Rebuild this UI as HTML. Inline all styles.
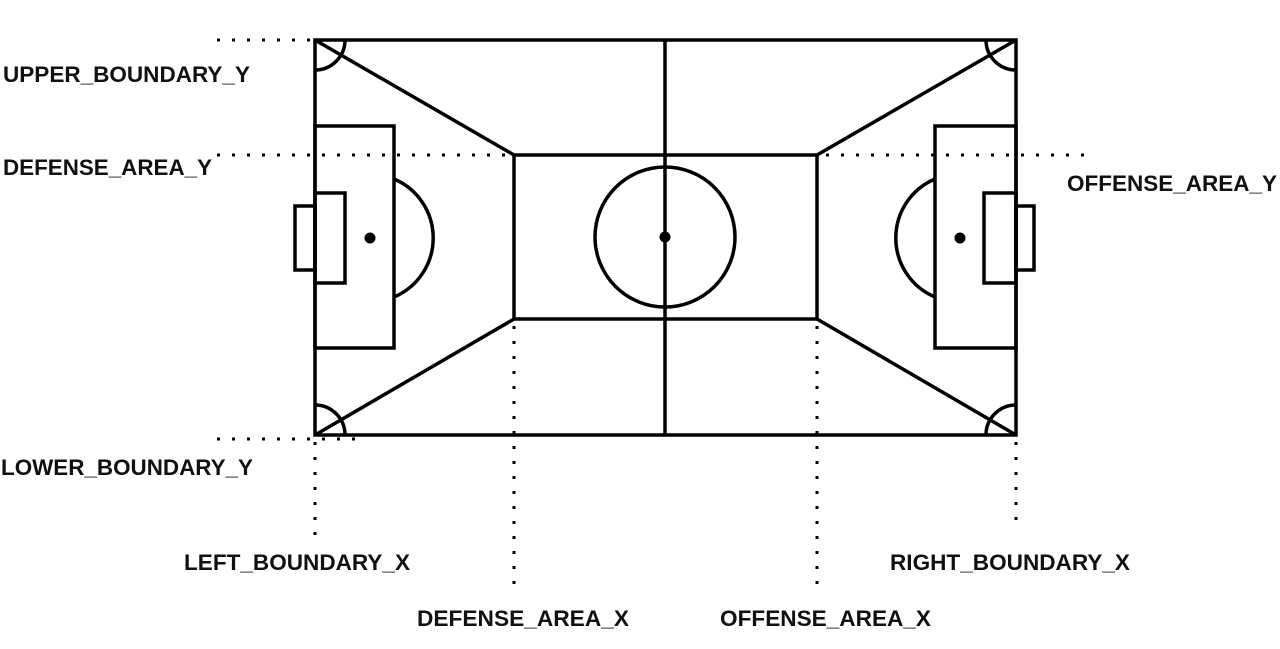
<!DOCTYPE html>
<html><head><meta charset="utf-8"><style>
html,body{margin:0;padding:0;background:#fff;}
svg{display:block;}
text{font-family:"Liberation Sans",Arial,sans-serif;font-weight:bold;font-size:22px;fill:#111;}
</style></head><body>
<svg width="1280" height="649" viewBox="0 0 1280 649">
<g fill="none" stroke="#000" stroke-width="3.5">
  <rect x="315" y="40" width="701" height="395"/>
  <line x1="665" y1="40" x2="665" y2="435"/>
  <rect x="514" y="155" width="303" height="164"/>
  <circle cx="665" cy="237" r="70"/>
  <line x1="315" y1="40" x2="514" y2="155"/>
  <line x1="315" y1="435" x2="514" y2="319"/>
  <line x1="1016" y1="40" x2="817" y2="155"/>
  <line x1="1016" y1="435" x2="817" y2="319"/>
  <rect x="315" y="126" width="79" height="222"/>
  <rect x="315" y="193" width="30" height="90"/>
  <rect x="295" y="206" width="20" height="64"/>
  <path d="M394 179 A64 64 0 0 1 394 297"/>
  <rect x="935" y="126" width="81" height="222"/>
  <rect x="984" y="193" width="32" height="90"/>
  <rect x="1016" y="206" width="18" height="64"/>
  <path d="M935 179 A64 64 0 0 0 935 297"/>
  <path d="M345 40 A30 30 0 0 1 315 70"/>
  <path d="M315 405 A30 30 0 0 1 345 435"/>
  <path d="M986 40 A30 30 0 0 0 1016 70"/>
  <path d="M1016 405 A30 30 0 0 0 986 435"/>
</g>
<circle cx="665" cy="237" r="5.5" fill="#000"/>
<circle cx="370" cy="238" r="5.5" fill="#000"/>
<circle cx="960" cy="238" r="5.5" fill="#000"/>
<g stroke="#000" stroke-width="3" stroke-dasharray="3 12" fill="none">
  <line x1="217" y1="40" x2="355" y2="40"/>
  <line x1="217" y1="155" x2="514" y2="155"/>
  <line x1="826" y1="155" x2="1092" y2="155"/>
  <line x1="217" y1="439" x2="357" y2="439"/>
  <line x1="315" y1="442" x2="315" y2="536"/>
  <line x1="514" y1="326" x2="514" y2="586"/>
  <line x1="817" y1="326" x2="817" y2="586"/>
  <line x1="1016" y1="442" x2="1016" y2="526"/>
</g>
<text x="3" y="82" textLength="247" lengthAdjust="spacingAndGlyphs">UPPER_BOUNDARY_Y</text>
<text x="3" y="175" textLength="209" lengthAdjust="spacingAndGlyphs">DEFENSE_AREA_Y</text>
<text x="1067" y="191" textLength="210" lengthAdjust="spacingAndGlyphs">OFFENSE_AREA_Y</text>
<text x="1" y="475" textLength="252" lengthAdjust="spacingAndGlyphs">LOWER_BOUNDARY_Y</text>
<text x="184" y="570" textLength="226" lengthAdjust="spacingAndGlyphs">LEFT_BOUNDARY_X</text>
<text x="890" y="570" textLength="240" lengthAdjust="spacingAndGlyphs">RIGHT_BOUNDARY_X</text>
<text x="417" y="626" textLength="212" lengthAdjust="spacingAndGlyphs">DEFENSE_AREA_X</text>
<text x="720" y="626" textLength="211" lengthAdjust="spacingAndGlyphs">OFFENSE_AREA_X</text>
</svg>
</body></html>
